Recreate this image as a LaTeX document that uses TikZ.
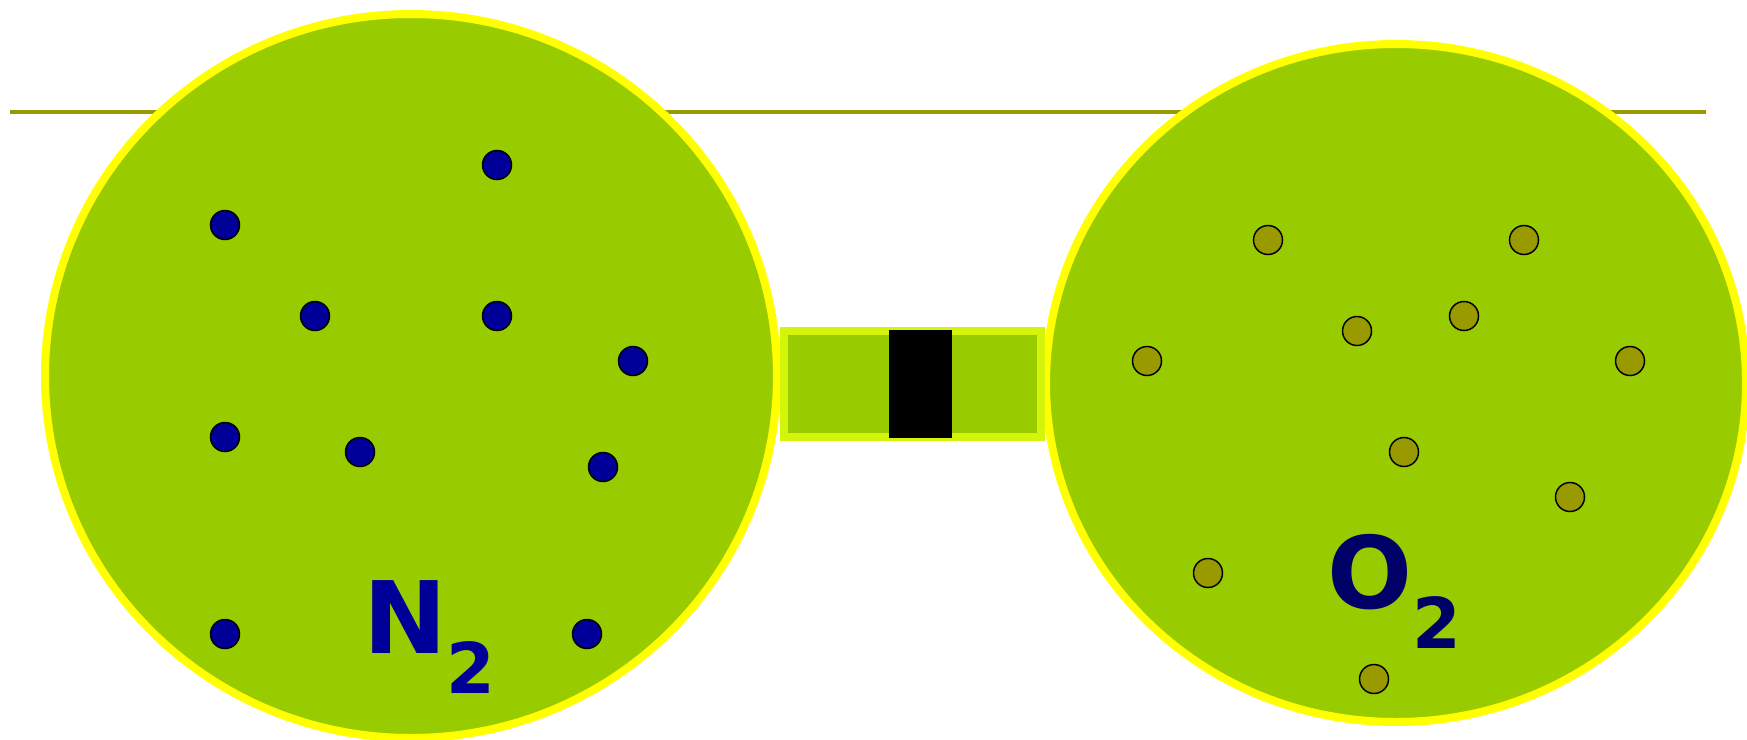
\documentclass[tikz,border=0pt]{standalone}
\usepackage{fontspec}
\setmainfont{DejaVu Sans}
\definecolor{gasgreen}{HTML}{99CC00}
\definecolor{rimyellow}{HTML}{FFFF00}
\definecolor{tuberim}{HTML}{D4F50A}
\definecolor{oxyolive}{HTML}{999900}
\definecolor{nitroblue}{HTML}{000099}
\definecolor{oxynavy}{HTML}{000066}
\newcommand{\gassub}[1]{\raisebox{-40pt}{\fontsize{70}{70}\selectfont #1}}

\begin{document}
\begin{tikzpicture}[
    x=1pt, y=-1pt,
    vessel/.style={fill=gasgreen, draw=rimyellow, line width=8pt},
    tube/.style={fill=gasgreen, draw=tuberim, line width=8pt},
    molN/.style={circle, fill=nitroblue, draw=black, line width=1.5pt, minimum size=29pt, inner sep=0pt},
    molO/.style={circle, fill=oxyolive, draw=black, line width=1.5pt, minimum size=29pt, inner sep=0pt},
    gaslabel/.style={anchor=base west, inner sep=0pt, font=\bfseries\fontsize{100}{100}\selectfont}
]
\useasboundingbox (0,0) rectangle (1747,739);
\clip (0,0) rectangle (1747,739);

% level line behind the vessels
\draw[oxyolive, line width=4pt] (10,112) -- (1706,112);

% the two vessels and the tube between them
\draw[vessel] (411,376) ellipse [x radius=366, y radius=362];
\draw[vessel] (1396,383) ellipse [x radius=350, y radius=339];
\draw[tube] (784,331) rectangle (1041,437);
\fill[black] (889,330) rectangle (952,438);

% nitrogen molecules
\foreach \x/\y [count=\i] in {497/165, 225/225, 315/316, 497/316, 633/361,
                              225/437, 360/452, 603/467, 225/634, 587/634}
  \node[molN] (n\i) at (\x,\y) {};

% oxygen molecules
\foreach \x/\y [count=\i] in {1268/240, 1524/240, 1464/316, 1357/331, 1147/361,
                              1630/361, 1404/452, 1570/497, 1208/573, 1374/679}
  \node[molO] (o\i) at (\x,\y) {};

\node[gaslabel, text=nitroblue] (labelN) at (363,653) {N\gassub{2}};
\node[gaslabel, text=oxynavy] (labelO) at (1327,608) {O\gassub{2}};
\end{tikzpicture}
\end{document}
